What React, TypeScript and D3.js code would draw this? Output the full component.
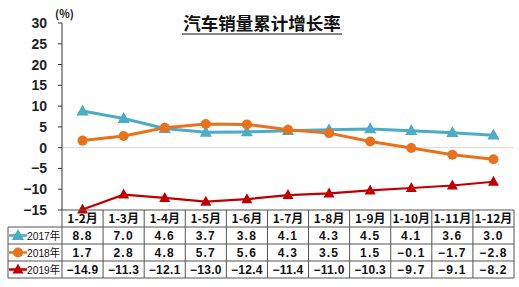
import React from "react";
import * as d3 from "d3";

const categories = ["1-2月", "1-3月", "1-4月", "1-5月", "1-6月", "1-7月", "1-8月", "1-9月", "1-10月", "1-11月", "1-12月"];
const s2017 = [8.8, 7.0, 4.6, 3.7, 3.8, 4.1, 4.3, 4.5, 4.1, 3.6, 3.0];
const s2018 = [1.7, 2.8, 4.8, 5.7, 5.6, 4.3, 3.5, 1.5, -0.1, -1.7, -2.8];
const s2019 = [-14.9, -11.3, -12.1, -13.0, -12.4, -11.4, -11.0, -10.3, -9.7, -9.1, -8.2];
const seriesNames = ["2017年", "2018年", "2019年"];
const yTicks = [30, 25, 20, 15, 10, 5, 0, -5, -10, -15];

const colors = ["#4bacc6", "#e8711b", "#c00000"];

export default function App() {
  const W = 519, H = 287;
  const left = 62, right = 514, top = 23, bottom = 210;
  const x = d3.scaleBand<string>().domain(categories).range([left, right]);
  const y = d3.scaleLinear().domain([-15, 30]).range([bottom, top]);
  const line = d3.line<number>().x((_, i) => (x(categories[i]) as number) + x.bandwidth() / 2).y((d) => y(d));
  const series = [s2017, s2018, s2019];
  const rowTop = [210, 227, 244, 261, 278];
  const tableLeft = 8;
  const font = "'Liberation Sans', Arial, 'Noto Sans CJK SC', sans-serif";
  const cx = (i: number) => (x(categories[i]) as number) + x.bandwidth() / 2;

  const tri = (px: number, py: number, s: number) =>
    `M${px},${py - s * 0.6}L${px + s * 0.55},${py + s * 0.4}L${px - s * 0.55},${py + s * 0.4}Z`;

  const marker = (k: number, px: number, py: number, key: string) => {
    if (k === 1) return <circle key={key} cx={px} cy={py} r={5} fill={colors[1]} />;
    return <path key={key} d={tri(px, py, k === 0 ? 11 : 10)} fill={colors[k]} />;
  };

  const fmt = (v: number) => (v < 0 ? "−" + Math.abs(v).toFixed(1) : v.toFixed(1));

  return (
    <svg width={W} height={H} style={{ position: "absolute", left: 0, top: 0, background: "#fff" }} fontFamily={font}>
      {/* title */}
      <text x={262} y={30} textAnchor="middle" fontSize={17.5} fontWeight="bold" fontFamily="'Noto Sans CJK SC', sans-serif" fill="#111">
        汽车销量累计增长率
      </text>
      <line x1={182} x2={342} y1={34} y2={34} stroke="#111" strokeWidth={1} />
      <text x={55} y={18} fontSize={11} fontWeight="bold" fontFamily="'Noto Sans CJK SC', sans-serif" fill="#111">(%)</text>

      {/* zero gridline */}
      <line x1={left} x2={right} y1={y(0)} y2={y(0)} stroke="#d9d9d9" strokeWidth={1} />

      {/* y axis */}
      <line x1={left} x2={left} y1={top} y2={bottom} stroke="#333" strokeWidth={1} />
      {yTicks.map((t) => (
        <g key={t}>
          <line x1={left - 4} x2={left} y1={y(t)} y2={y(t)} stroke="#333" />
          <text x={47} y={y(t) + 5} textAnchor="end" fontSize={14} fontWeight="bold" fill="#222">
            {t < 0 ? "−" + Math.abs(t) : t}
          </text>
        </g>
      ))}

      {/* lines */}
      {series.map((s, k) => (
        <path key={"l" + k} d={line(s) as string} fill="none" stroke={colors[k]} strokeWidth={k === 2 ? 2.2 : 3} />
      ))}
      {series.map((s, k) => s.map((v, i) => marker(k, cx(i), y(v), `m${k}-${i}`)))}

      {/* table */}
      <g stroke="#555" strokeWidth={1} fill="none">
        <line x1={left} x2={right} y1={rowTop[0]} y2={rowTop[0]} />
        {rowTop.slice(1).map((r) => (
          <line key={r} x1={tableLeft} x2={right} y1={r} y2={r} />
        ))}
        <line x1={tableLeft} x2={tableLeft} y1={rowTop[1]} y2={rowTop[4]} />
        {categories.map((c) => (
          <line key={c} x1={x(c) as number} x2={x(c) as number} y1={rowTop[0]} y2={rowTop[4]} />
        ))}
        <line x1={right} x2={right} y1={rowTop[0]} y2={rowTop[4]} />
      </g>
      {categories.map((c, i) => (
        <text key={"h" + c} x={cx(i)} y={rowTop[0] + 13} textAnchor="middle" fontSize={12} fontWeight="bold" fontFamily="'Noto Sans CJK SC', sans-serif" fill="#111">
          {c}
        </text>
      ))}
      {series.map((s, k) => (
        <g key={"r" + k}>
          <line x1={9} x2={27} y1={rowTop[k + 1] + 8.5} y2={rowTop[k + 1] + 8.5} stroke={colors[k]} strokeWidth={2.5} />
          {marker(k, 18, rowTop[k + 1] + 8.5, "lm" + k)}
          <text x={27} y={rowTop[k + 1] + 13} fontSize={11.5} textLength={33} lengthAdjust="spacingAndGlyphs" fill="#111">
            {seriesNames[k]}
          </text>
          {s.map((v, i) => (
            <text key={i} x={cx(i)} y={rowTop[k + 1] + 13} textAnchor="middle" fontSize={12} fontWeight="bold" letterSpacing={v <= -10 ? 0.3 : 1.2} fill="#111">
              {fmt(v)}
            </text>
          ))}
        </g>
      ))}
    </svg>
  );
}
